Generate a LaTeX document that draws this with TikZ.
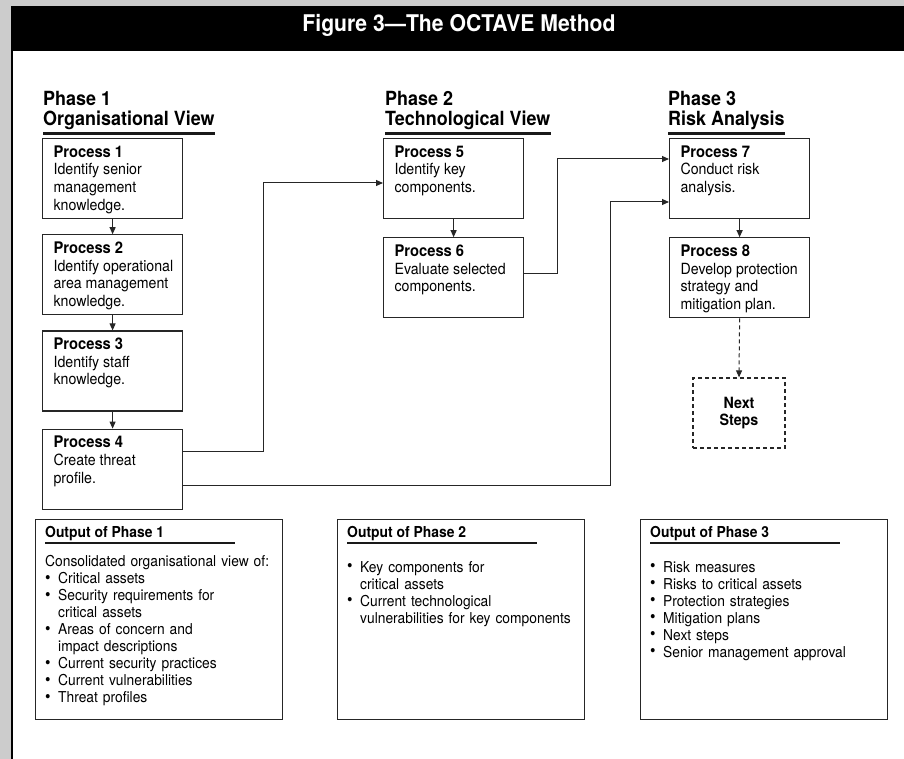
\documentclass[tikz,border=0pt]{standalone}
\usepackage{fontspec}
\setmainfont{TeX Gyre Heros}[FakeStretch=0.92]
\usepackage{tikz}
\usetikzlibrary{arrows.meta, positioning}

\newcommand\fsz[2]{\fontsize{#1}{#2}\selectfont}
\newcommand\proctext[2]{\parbox[c][80pt][t]{140pt}{\leftskip=11pt\rightskip=0pt plus 1fil\parfillskip=0pt plus 1fil%
    {\fsz{16}{17.7}\bfseries\rule{0pt}{18.5pt}#1}\newline#2}}
\newcommand\bul[1]{\par\makebox[13pt][l]{\raisebox{0.3pt}{\fsz{17}{17}\textbullet}}#1}
\newcommand\bulcont[1]{\par\makebox[13pt][l]{}#1}

\tikzset{
    procbox/.style={draw=black!85, line width=1.2pt, fill=white, inner sep=0pt, font=\fsz{15.4}{17.7}},
    nextbox/.style={draw=black!85, line width=1.2pt, dash pattern=on 4pt off 3pt, minimum width=92pt, minimum height=70pt, align=center, font=\bfseries\fsz{15.5}{16.5}},
    phase/.style={anchor=north west, inner sep=0pt, align=left, font=\bfseries\fsz{19.5}{20}},
    outbox/.style={draw=black!85, line width=1.2pt, anchor=north west, minimum width=247pt, minimum height=200pt},
    outhead/.style={anchor=base west, inner sep=0pt, font=\bfseries\fsz{15.1}{17}},
    outbody/.style={anchor=north west, inner sep=0pt, text width=270pt, align=left, font=\fsz{15}{17}},
    rulebar/.style={line width=2.5pt, black!90},
    conn/.style={line width=1pt, black!85, -{Triangle[length=7pt,width=6pt]}}
}

\begin{document}
\begin{tikzpicture}[x=1pt, y=-1pt]
    \useasboundingbox (0,0) rectangle (904,759);
    % page and title band
    \fill[black!20] (0,0) rectangle (904,759);
    \fill[black] (11,6) rectangle (904,51);
    \fill[white] (13,51) rectangle (904,759);
    \fill[black] (11,51) rectangle (13,759);
    \node[anchor=base, inner sep=0pt, text=white, font=\bfseries\fsz{23}{24}] (title) at (459,32) {Figure 3---The OCTAVE Method};

    % phase headings
    \node[phase] (ph1) at (43,91.5) {Phase 1\\Organisational View};
    \node[phase] (ph2) at (385,91.5) {Phase 2\\Technological View};
    \node[phase] (ph3) at (668,91.5) {Phase 3\\Risk Analysis};
    \foreach \ph in {ph1, ph2, ph3}
        \draw[rulebar] ([yshift=-3pt]\ph.south west) -- ([yshift=-3pt]\ph.south east);

    % processes
    \node[procbox, anchor=north west] (p1) at (42,138) {\proctext{Process 1}{Identify senior\newline management\newline knowledge.}};
    \node[procbox, below=15pt of p1] (p2) {\proctext{Process 2}{Identify operational\newline area management\newline knowledge.}};
    \node[procbox, below=15pt of p2] (p3) {\proctext{Process 3}{Identify staff\newline knowledge.}};
    \node[procbox, below=17pt of p3] (p4) {\proctext{Process 4}{Create threat\newline profile.}};
    \node[procbox, anchor=north west] (p5) at (383,138) {\proctext{Process 5}{Identify key\newline components.}};
    \node[procbox, below=18pt of p5] (p6) {\proctext{Process 6}{Evaluate selected\newline components.}};
    \node[procbox, anchor=north west] (p7) at (669,138) {\proctext{Process 7}{Conduct risk\newline analysis.}};
    \node[procbox, below=18pt of p7] (p8) {\proctext{Process 8}{Develop protection\newline strategy and\newline mitigation plan.}};
    \node[nextbox] (next) at (739,413) {Next\\Steps};

    \draw[conn] (p1.south) -- (p2.north);
    \draw[conn] (p2.south) -- (p3.north);
    \draw[conn] (p3.south) -- (p4.north);
    \draw[conn] (p5.south) -- (p6.north);
    \draw[conn] (p7.south) -- (p8.north);
    \draw[conn, dash pattern=on 4pt off 3pt] (p8.south) -- (next.north);

    % cross-phase links
    \coordinate (j1) at (263,183);
    \coordinate (j2) at (557,159);
    \coordinate (j3) at (610,202);
    \draw[conn] ([yshift=18pt]p4.east) -| (j1) -- (p5.west |- j1);
    \draw[conn] ([yshift=4.5pt]p6.east) -| (j2) -- (p7.west |- j2);
    \draw[conn] ([yshift=-16pt]p4.east) -| (j3) -- (p7.west |- j3);

    % outputs
    \node[outbox] (out1) at (35,519) {};
    \node[outbox] (out2) at (337,519) {};
    \node[outbox] (out3) at (640,519) {};
    \node[outhead] (out1h) at (45,537) {Output of Phase 1};
    \node[outhead] (out2h) at (347,537) {Output of Phase 2};
    \node[outhead] (out3h) at (650,537) {Output of Phase 3};
    \foreach \oh in {out1h, out2h, out3h}
        \draw[rulebar] ([yshift=-6pt]\oh.base west) -- ++(190pt,0pt);
    \node[outbody] (out1b) at (45,555) {Consolidated organisational view of:%
        \bul{Critical assets}\bul{Security requirements for}\bulcont{critical assets}%
        \bul{Areas of concern and}\bulcont{impact descriptions}\bul{Current security practices}%
        \bul{Current vulnerabilities}\bul{Threat profiles}};
    \node[outbody] (out2b) at (347,555) {\bul{Key components for}\bulcont{critical assets}%
        \bul{Current technological}\bulcont{vulnerabilities for key components}};
    \node[outbody] (out3b) at (650,555) {\bul{Risk measures}\bul{Risks to critical assets}%
        \bul{Protection strategies}\bul{Mitigation plans}\bul{Next steps}%
        \bul{Senior management approval}};
\end{tikzpicture}
\end{document}
